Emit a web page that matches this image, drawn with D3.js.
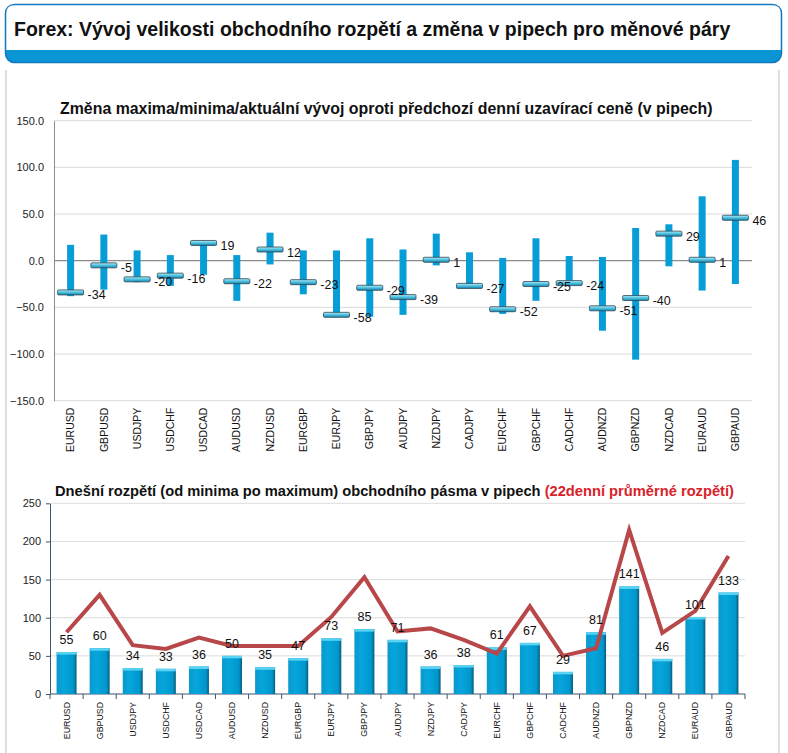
<!DOCTYPE html>
<html>
<head>
<meta charset="utf-8">
<script src="https://d3js.org/d3.v7.min.js"></script>
<style>
  body { margin: 0; background: #fff; }
  svg { display: block; }
</style>
</head>
<body>
<div class="chart"></div>
<script>
// currency pairs (same order in both charts)
var pairs = ["EURUSD", "GBPUSD", "USDJPY", "USDCHF", "USDCAD", "AUDUSD", "NZDUSD", "EURGBP",
  "EURJPY", "GBPJPY", "AUDJPY", "NZDJPY", "CADJPY", "EURCHF", "GBPCHF", "CADCHF",
  "AUDNZD", "GBPNZD", "NZDCAD", "EURAUD", "GBPAUD"];

// top chart: change vs previous close (pips)
var highs = [17, 28, 11, 6, 19, 6, 30, 11, 11, 24, 12, 29, 9, 3, 24, 5, 4, 35, 39, 69, 108];
var lows = [-38, -31, -23, -27, -15, -43, -4, -36, -58, -60, -58, -5, -28, -57, -43, -25, -75, -106, -6, -32, -25];
var current = [-34, -5, -20, -16, 19, -22, 12, -23, -58, -29, -39, 1, -27, -52, -25, -24, -51, -40, 29, 1, 46];
var topTicks = [-150, -100, -50, 0, 50, 100, 150];

// bottom chart: today's range and 22-day average range
var ranges = [55, 60, 34, 33, 36, 50, 35, 47, 73, 85, 71, 36, 38, 61, 67, 29, 81, 141, 46, 101, 133];
var avg22 = [81, 130, 64, 59, 74, 63, 63, 63, 101, 153, 82, 86, 71, 53, 115, 50, 60, 215, 80, 109, 181];
var bottomTicks = [0, 50, 100, 150, 200, 250];

var svg = d3.select(".chart").append("svg")
  .attr("width", 788)
  .attr("height", 753);

var defs = svg.append("defs");

var capGrad = defs.append("linearGradient")
  .attr("id", "capGrad").attr("x1", 0).attr("y1", 0).attr("x2", 0).attr("y2", 1);
capGrad.append("stop").attr("offset", "0%").attr("stop-color", "#b8eef8");
capGrad.append("stop").attr("offset", "50%").attr("stop-color", "#4cc0e0");
capGrad.append("stop").attr("offset", "100%").attr("stop-color", "#1a86b0");

var barGrad = defs.append("linearGradient")
  .attr("id", "barGrad").attr("x1", 0).attr("y1", 0).attr("x2", 1).attr("y2", 0);
barGrad.append("stop").attr("offset", "0%").attr("stop-color", "#0b98cc");
barGrad.append("stop").attr("offset", "35%").attr("stop-color", "#06a6dc");
barGrad.append("stop").attr("offset", "85%").attr("stop-color", "#0096cc");
barGrad.append("stop").attr("offset", "100%").attr("stop-color", "#0b5a78");

var font = "Liberation Sans, Arial, sans-serif";

// header box
svg.append("rect")
  .attr("x", 5.5).attr("y", 4.5).attr("width", 776).attr("height", 58)
  .attr("rx", 9).attr("fill", "#0a96d4").attr("stroke", "#1577bd").attr("stroke-width", 1.5);
svg.append("path")
  .attr("d", "M6.3,50 L6.3,13.5 Q6.3,5.3 14.5,5.3 L772.5,5.3 Q780.7,5.3 780.7,13.5 L780.7,50 Z")
  .attr("fill", "#fff");
svg.append("text")
  .attr("x", 14).attr("y", 36)
  .attr("font-family", font)
  .attr("font-size", "19.5px").attr("font-weight", "bold").attr("fill", "#111")
  .text("Forex: Vývoj velikosti obchodního rozpětí a změna v pipech pro měnové páry");

// content panel side lines
svg.append("line").attr("x1", 6).attr("x2", 6).attr("y1", 70).attr("y2", 753)
  .attr("stroke", "#d4d4d4").attr("stroke-width", 1.5);
svg.append("line").attr("x1", 779).attr("x2", 779).attr("y1", 70).attr("y2", 753)
  .attr("stroke", "#d4d4d4").attr("stroke-width", 1.5);

// ---------- top chart ----------
var x1 = d3.scaleBand().domain(pairs).range([54, 752]);
var y1 = d3.scaleLinear().domain([-150, 150]).range([400.7, 120.7]);

var topG = svg.append("g");

topG.selectAll(".grid1").data(topTicks).enter().append("line")
  .attr("x1", 54).attr("x2", 752)
  .attr("y1", d => y1(d)).attr("y2", d => y1(d))
  .attr("stroke", d => d === 0 ? "#8c8c8c" : "#dadada")
  .attr("stroke-width", d => d === 0 ? 1.3 : 1);

var leftAxis1 = d3.axisLeft(y1).tickValues(topTicks).tickSize(0).tickPadding(10)
  .tickFormat(d3.format(".1f"));
var ga1 = topG.append("g").attr("transform", "translate(54,0)").call(leftAxis1);
ga1.select(".domain").attr("stroke", "#8c8c8c");
ga1.selectAll("text").attr("font-family", font).attr("font-size", "11px").attr("fill", "#222");

var bottomAxis1 = d3.axisBottom(x1).tickSize(0).tickPadding(6);
var gb1 = topG.append("g").attr("transform", "translate(0,400.7)").call(bottomAxis1);
gb1.select(".domain").remove();
gb1.selectAll("text")
  .attr("font-family", font).attr("font-size", "10.5px").attr("fill", "#111")
  .attr("transform", "rotate(-90)")
  .attr("text-anchor", "end")
  .attr("x", -7).attr("y", 0).attr("dy", "0.35em");

topG.append("text")
  .attr("x", 60).attr("y", 114)
  .attr("font-family", font).attr("font-size", "15.9px").attr("font-weight", "bold").attr("fill", "#111")
  .text("Změna maxima/minima/aktuální vývoj oproti předchozí denní uzavírací ceně (v pipech)");

// high-low bars
topG.selectAll(".hl").data(pairs).enter().append("rect")
  .attr("x", d => x1(d) + x1.bandwidth() / 2 - 3.5)
  .attr("width", 7)
  .attr("y", (d, i) => y1(highs[i]))
  .attr("height", (d, i) => y1(lows[i]) - y1(highs[i]))
  .attr("fill", "#079dd6");

// current value caps
topG.selectAll(".cap").data(pairs).enter().append("rect")
  .attr("x", d => x1(d) + x1.bandwidth() / 2 - 13)
  .attr("width", 26)
  .attr("y", (d, i) => y1(current[i]) - 2.5)
  .attr("height", 5)
  .attr("rx", 1)
  .attr("fill", "url(#capGrad)")
  .attr("stroke", "#2c4652").attr("stroke-width", 0.8);

topG.selectAll(".lbl1").data(pairs).enter().append("text")
  .attr("x", d => x1(d) + x1.bandwidth() / 2 + 17)
  .attr("y", (d, i) => y1(current[i]) + 7)
  .attr("font-family", font).attr("font-size", "12.5px").attr("fill", "#111")
  .text((d, i) => current[i]);

// ---------- bottom chart ----------
var x2 = d3.scaleBand().domain(pairs).range([50, 745]);
var y2 = d3.scaleLinear().domain([0, 250]).range([694, 503.3]);

var bot = svg.append("g");

bot.selectAll(".grid2").data(bottomTicks.slice(1)).enter().append("line")
  .attr("x1", 50).attr("x2", 745)
  .attr("y1", d => y2(d)).attr("y2", d => y2(d))
  .attr("stroke", "#dcdcdc");

var leftAxis2 = d3.axisLeft(y2).tickValues(bottomTicks).tickSize(4).tickSizeOuter(0).tickPadding(5);
var ga2 = bot.append("g").attr("transform", "translate(50,0)").call(leftAxis2);
ga2.selectAll("line, .domain").attr("stroke", "#3d5570");
ga2.selectAll("text").attr("font-family", font).attr("font-size", "11px").attr("fill", "#222");

var gb2 = bot.append("g").attr("transform", "translate(0,694)");
gb2.append("line").attr("x1", 50).attr("x2", 745).attr("stroke", "#3d5570");
gb2.selectAll(".tk").data(pairs.concat(["end"])).enter().append("line")
  .attr("x1", (d, i) => i < pairs.length ? x2(d) : 745)
  .attr("x2", (d, i) => i < pairs.length ? x2(d) : 745)
  .attr("y1", 0).attr("y2", 5)
  .attr("stroke", "#3d5570");
var bottomAxis2 = d3.axisBottom(x2).tickSize(0).tickPadding(6);
var gbt = bot.append("g").attr("transform", "translate(0,694)").call(bottomAxis2);
gbt.select(".domain").remove();
gbt.selectAll("text")
  .attr("font-family", font).attr("font-size", "8.8px").attr("fill", "#111")
  .attr("transform", "rotate(-90)")
  .attr("text-anchor", "end")
  .attr("x", -8).attr("y", 0).attr("dy", "0.35em");

var t2 = bot.append("text")
  .attr("x", 55).attr("y", 496)
  .attr("font-family", font).attr("font-size", "14.7px").attr("font-weight", "bold").attr("fill", "#111");
t2.append("tspan").text("Dnešní rozpětí (od minima po maximum) obchodního pásma v pipech ");
t2.append("tspan").attr("fill", "#d8232a").text("(22denní průměrné rozpětí)");

var bw = 20;
bot.selectAll(".bar").data(pairs).enter().append("rect")
  .attr("x", d => x2(d) + x2.bandwidth() / 2 - bw / 2)
  .attr("width", bw)
  .attr("y", (d, i) => y2(ranges[i]))
  .attr("height", (d, i) => 694 - y2(ranges[i]))
  .attr("fill", "url(#barGrad)");
bot.selectAll(".bartop").data(pairs).enter().append("rect")
  .attr("x", d => x2(d) + x2.bandwidth() / 2 - bw / 2)
  .attr("width", bw)
  .attr("y", (d, i) => y2(ranges[i]))
  .attr("height", 2.5)
  .attr("fill", "#5ad2f2");

var line = d3.line()
  .x((d, i) => x2(pairs[i]) + x2.bandwidth() / 2)
  .y(d => y2(d));
bot.append("path")
  .datum(avg22)
  .attr("d", line)
  .attr("fill", "none")
  .attr("stroke", "#b8474a")
  .attr("stroke-width", 4)
  .attr("stroke-linejoin", "miter");

bot.selectAll(".lbl2").data(pairs).enter().append("text")
  .attr("x", d => x2(d) + x2.bandwidth() / 2)
  .attr("y", (d, i) => y2(ranges[i]) - 8)
  .attr("text-anchor", "middle")
  .attr("font-family", font).attr("font-size", "12.5px").attr("fill", "#111")
  .text((d, i) => ranges[i]);
</script>
</body>
</html>
